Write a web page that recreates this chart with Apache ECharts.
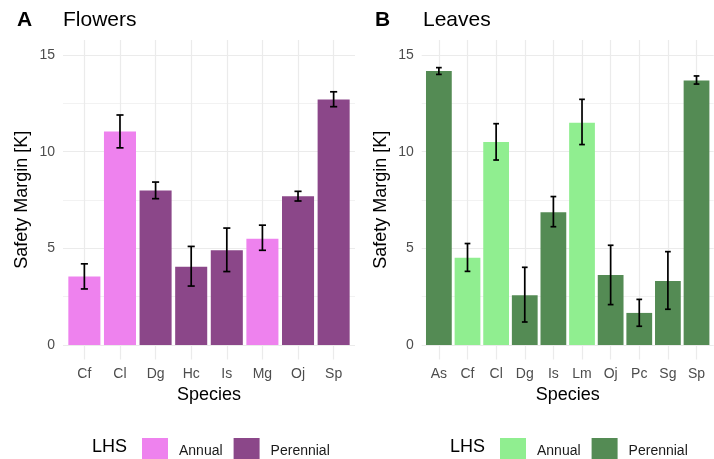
<!DOCTYPE html>
<html>
<head>
<meta charset="utf-8">
<title>Safety Margin</title>
<script src="https://cdn.jsdelivr.net/npm/echarts@6/dist/echarts.min.js"></script>
<style>
html, body { margin: 0; padding: 0; background: #fff; }
#chart { width: 714px; height: 459px; }
</style>
</head>
<body>
<div id="chart"></div>
<script>
// Flowers panel
var flowerSpecies = ['Cf', 'Cl', 'Dg', 'Hc', 'Is', 'Mg', 'Oj', 'Sp'];
var flowerLHS = ['Annual', 'Annual', 'Perennial', 'Perennial', 'Perennial', 'Annual', 'Perennial', 'Perennial'];
var flowerMean = [3.55, 11.05, 8.0, 4.05, 4.9, 5.5, 7.7, 12.7];
var flowerLow = [2.9, 10.2, 7.57, 3.05, 3.8, 4.9, 7.45, 12.33];
var flowerHigh = [4.2, 11.9, 8.43, 5.1, 6.05, 6.2, 7.95, 13.1];

// Leaves panel
var leafSpecies = ['As', 'Cf', 'Cl', 'Dg', 'Is', 'Lm', 'Oj', 'Pc', 'Sg', 'Sp'];
var leafLHS = ['Perennial', 'Annual', 'Annual', 'Perennial', 'Perennial', 'Annual', 'Perennial', 'Perennial', 'Perennial', 'Perennial'];
var leafMean = [14.17, 4.52, 10.5, 2.57, 6.87, 11.5, 3.62, 1.66, 3.31, 13.69];
var leafLow = [14.0, 3.81, 9.57, 1.19, 6.12, 10.37, 2.09, 0.97, 1.85, 13.5];
var leafHigh = [14.35, 5.25, 11.45, 4.02, 7.68, 12.71, 5.16, 2.36, 4.83, 13.92];

// y axis ticks
var yTicks = [0, 5, 10, 15];
var yMinorTicks = [2.5, 7.5, 12.5];
var groups = ['Annual', 'Perennial'];

var FONT = '"Liberation Sans", Arial, sans-serif';
var GRID_COLOR = '#EBEBEB';
var Y_MIN = -0.75, Y_MAX = 15.78;

/*build one panel: grid, axes and series*/
function buildPanel(idx, panel, option) {
    var n = panel.species.length;
    var grid = panel.grid;
    var bandPx = grid.width / (n - 1 + 1.2);
    option.grid.push(grid);
    option.xAxis.push({
        type: 'value',
        gridIndex: idx,
        min: -0.6,
        max: n - 1 + 0.6,
        name: 'Species',
        nameLocation: 'middle',
        nameGap: 26,
        nameTextStyle: { fontFamily: FONT, fontSize: 18, color: '#000' },
        axisLine: { show: false },
        axisTick: { show: false, customValues: panel.species.map(function (s, i) { return i; }) },
        axisLabel: {
            customValues: panel.species.map(function (s, i) { return i; }),
            formatter: function (v) { return panel.species[Math.round(v)]; },
            fontFamily: FONT, fontSize: 14, color: '#4D4D4D', margin: 8
        },
        splitLine: { show: true, lineStyle: { color: GRID_COLOR, width: 1.2 } }
    });
    // minor grid lines
    option.yAxis.push({
        type: 'value',
        gridIndex: idx,
        min: Y_MIN,
        max: Y_MAX,
        axisLine: { show: false },
        axisTick: { show: false, customValues: yMinorTicks },
        axisLabel: { show: false, customValues: yMinorTicks },
        splitLine: { show: true, lineStyle: { color: '#F2F2F2', width: 1 } }
    });
    option.yAxis.push({
        type: 'value',
        gridIndex: idx,
        position: 'left',
        min: Y_MIN,
        max: Y_MAX,
        name: 'Safety Margin [K]',
        nameLocation: 'middle',
        nameGap: 32,
        nameTextStyle: { fontFamily: FONT, fontSize: 18, color: '#000' },
        axisLine: { show: false },
        axisTick: { show: false, customValues: yTicks },
        axisLabel: { customValues: yTicks, fontFamily: FONT, fontSize: 14, color: '#4D4D4D', margin: 8 },
        splitLine: { show: true, lineStyle: { color: GRID_COLOR, width: 1.2 } }
    });
    var yIdx = idx * 2 + 1;
    groups.forEach(function (g, k) {
        var data = [];
        for (var i = 0; i < n; i++) {
            if (panel.lhs[i] === g) {
                data.push([i, panel.mean[i]]);
            }
        }
        option.series.push({
            type: 'bar',
            name: g,
            xAxisIndex: idx,
            yAxisIndex: yIdx,
            barWidth: bandPx * 0.9,
            barGap: '-100%',
            itemStyle: { color: panel.colors[k] },
            silent: true,
            data: data
        });
    });
    var errData = [];
    for (var j = 0; j < n; j++) {
        errData.push([j, panel.low[j], panel.high[j]]);
    }
    option.series.push({
        type: 'custom',
        xAxisIndex: idx,
        yAxisIndex: yIdx,
        z: 5,
        silent: true,
        encode: { x: 0, y: [1, 2] },
        data: errData,
        renderItem: function (params, api) {
            var x = api.value(0);
            var top = api.coord([x, api.value(2)]);
            var bot = api.coord([x, api.value(1)]);
            var half = api.size([0.1, 0])[0];
            var st = { stroke: '#000', lineWidth: 1.7 };
            return {
                type: 'group',
                children: [
                    { type: 'line', shape: { x1: top[0], y1: top[1], x2: bot[0], y2: bot[1] }, style: st },
                    { type: 'line', shape: { x1: top[0] - half, y1: top[1], x2: top[0] + half, y2: top[1] }, style: st },
                    { type: 'line', shape: { x1: bot[0] - half, y1: bot[1], x2: bot[0] + half, y2: bot[1] }, style: st }
                ]
            };
        }
    });
    option.legend.push({
        left: panel.legendLeft,
        top: 433,
        itemWidth: 26,
        itemHeight: 26,
        itemGap: 11,
        icon: 'rect',
        selectedMode: false,
        textStyle: { fontFamily: FONT, fontSize: 14, color: '#1A1A1A', padding: [0, 0, 3, 6] },
        data: groups.map(function (g, k) {
            return { name: g, itemStyle: { color: panel.colors[k] } };
        })
    });
    option.title.push(
        { text: panel.tag, left: panel.tagLeft, top: 10, padding: 0,
          textStyle: { fontFamily: FONT, fontSize: 21, fontWeight: 'bold', color: '#000' } },
        { text: panel.title, left: panel.titleLeft, top: 10, padding: 0,
          textStyle: { fontFamily: FONT, fontSize: 21, fontWeight: 'normal', color: '#000' } },
        { text: 'LHS', left: panel.lhsLeft, top: 438, padding: 0,
          textStyle: { fontFamily: FONT, fontSize: 18, fontWeight: 'normal', color: '#000' } }
    );
}

var option = {
    backgroundColor: '#fff',
    animation: false,
    title: [],
    legend: [],
    grid: [],
    xAxis: [],
    yAxis: [],
    series: []
};

buildPanel(0, {
    species: flowerSpecies, lhs: flowerLHS, mean: flowerMean, low: flowerLow, high: flowerHigh,
    colors: ['#EE82EE', '#8B4789'],
    grid: { left: 63, top: 40, width: 292, height: 319.5 },
    tag: 'A', tagLeft: 17, title: 'Flowers', titleLeft: 63,
    lhsLeft: 92, legendLeft: 137
}, option);

buildPanel(1, {
    species: leafSpecies, lhs: leafLHS, mean: leafMean, low: leafLow, high: leafHigh,
    colors: ['#90EE90', '#548B54'],
    grid: { left: 421.7, top: 40, width: 292, height: 319.5 },
    tag: 'B', tagLeft: 375, title: 'Leaves', titleLeft: 423,
    lhsLeft: 450, legendLeft: 495
}, option);

var myChart = echarts.init(document.getElementById('chart'));
myChart.setOption(option);
</script>
</body>
</html>
